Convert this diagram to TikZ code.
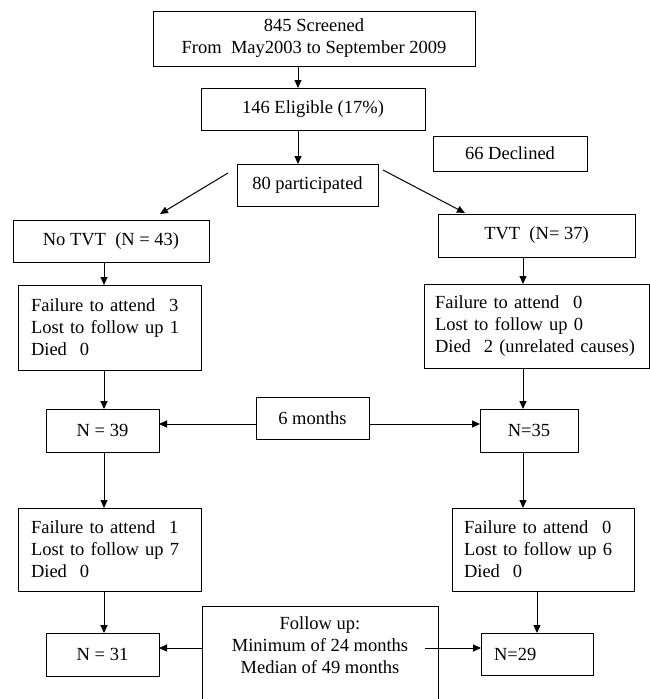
\documentclass[tikz,border=0pt]{standalone}
\usepackage{fontspec}
\setmainfont{Liberation Serif}
\usetikzlibrary{arrows.meta}
\begin{document}
\begin{tikzpicture}[x=1pt,y=-1pt,
  box/.style={draw, line width=0.8pt, inner sep=0pt, outer sep=0pt, align=center, font=\fontsize{18.5}{22}\selectfont},
  lbox/.style={box, align=left, inner xsep=13pt},
  txt/.style={inner sep=0pt, align=center, font=\fontsize{18.5}{22}\selectfont},
  conn/.style={line width=1pt, -{Triangle[length=8pt,width=7pt]}}]
\useasboundingbox (0,0) rectangle (650,699);
\clip (0,0) rectangle (650,699);
% boxes
\node[box, minimum width=322pt, minimum height=55pt] (scr) at (314,38.5) {845 Screened\\From\ \ May2003 to September 2009};
\node[box, minimum width=224pt, minimum height=42pt] (elig) at (313,109) {146 Eligible (17\%)};
\node[box, minimum width=141pt, minimum height=42pt] (part) at (307.5,185) {80 participated};
\node[box, minimum width=154pt, minimum height=35pt] (decl) at (510,153.5) {66 Declined};
\node[box, minimum width=196pt, minimum height=42pt] (notvt) at (111,241) {No TVT\ \ (N = 43)};
\node[box, minimum width=197pt, minimum height=43pt] (tvt) at (536.5,235.5) {TVT\ \ (N= 37)};
\node[lbox, text width=157pt, minimum height=85pt] (fa) at (109.5,327.5) {Failure to attend\hspace{0.75em}3\\Lost to follow up 1\\Died\hspace{0.7em}0};
\node[lbox, inner xsep=11pt, text width=203pt, minimum height=84pt] (fb) at (536.5,326) {Failure to attend\hspace{0.75em}0\\Lost to follow up 0\\Died\hspace{0.7em}2 (unrelated causes)};
\node[box, minimum width=113pt, minimum height=43pt] (n39) at (102.5,430.5) {N = 39};
\node[box, minimum width=113pt, minimum height=42pt] (six) at (312.5,418) {6 months};
\node[box, minimum width=98pt, minimum height=43pt] (n35) at (529,430.5) {N=35};
\node[lbox, text width=157pt, minimum height=83pt] (fc) at (109.5,549.5) {Failure to attend\hspace{0.75em}1\\Lost to follow up 7\\Died\hspace{0.7em}0};
\node[lbox, inner xsep=12pt, text width=158pt, minimum height=83pt] (fd) at (543,549.5) {Failure to attend\hspace{0.75em}0\\Lost to follow up 6\\Died\hspace{0.7em}0};
\node[box, minimum width=113pt, minimum height=43pt] (n31) at (102.5,654.5) {N = 31};
\node[lbox, text width=86pt, minimum height=42pt] (n29) at (537,654) {N=29};
\node[box, anchor=north, minimum width=236pt, minimum height=120pt] (fu) at (320,606) {};
\node[txt] (futxt) at (320,645) {Follow up:\\Minimum of 24 months\\Median of 49 months};
% reference coordinates
\coordinate (xa) at (298,0);
\coordinate (xl) at (104,0);
\coordinate (xr) at (523,0);
\coordinate (xr2) at (537,0);
\coordinate (ya) at (0,424);
\coordinate (yb) at (0,648);
\coordinate (fs) at (425,648);
% connectors
\draw[conn] (scr.south -| xa) -- (elig.north -| xa);
\draw[conn] (elig.south -| xa) -- (part.north -| xa);
\draw[conn] ([shift={(-9,-12)}]part.west) -- ([shift={(49,-6)}]notvt.north);
\draw[conn] ([shift={(5,-15)}]part.east) -- ([shift={(-71.5,-1)}]tvt.north);
\draw[conn] (notvt.south -| xl) -- (fa.north -| xl);
\draw[conn] (tvt.south -| xr) -- (fb.north -| xr);
\draw[conn] (fa.south -| xl) -- (n39.north -| xl);
\draw[conn] (fb.south -| xr) -- (n35.north -| xr);
\draw[conn] (six.west |- ya) -- (n39.east |- ya);
\draw[conn] (six.east |- ya) -- (n35.west |- ya);
\draw[conn] (n39.south -| xl) -- (fc.north -| xl);
\draw[conn] (n35.south -| xr) -- (fd.north -| xr);
\draw[conn] (fc.south -| xl) -- (n31.north -| xl);
\draw[conn] (fd.south -| xr2) -- (n29.north -| xr2);
\draw[conn] (fu.west |- yb) -- (n31.east |- yb);
\draw[conn] (fs) -- (n29.west |- yb);
\end{tikzpicture}
\end{document}
